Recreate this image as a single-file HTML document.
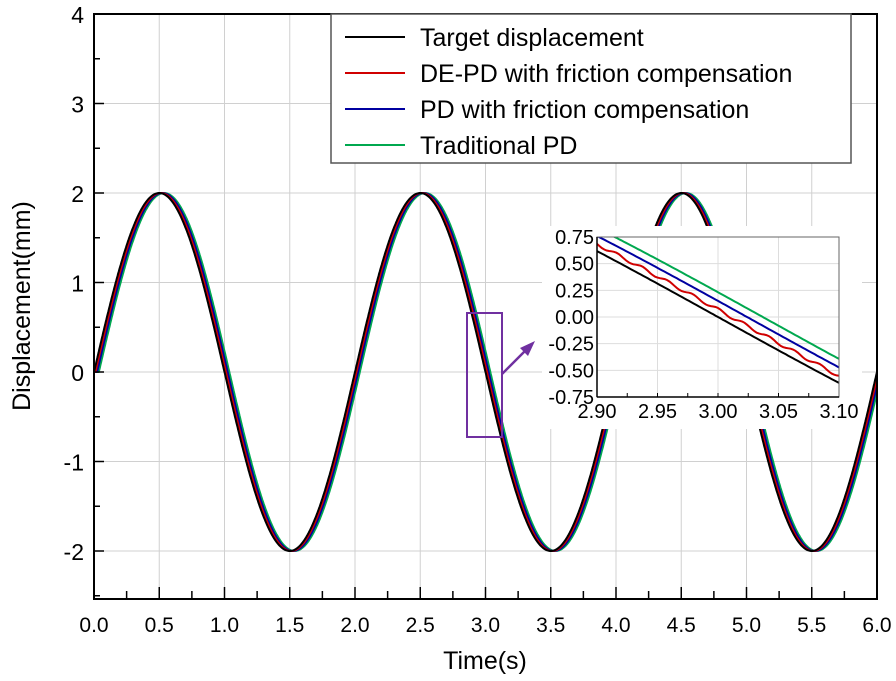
<!DOCTYPE html><html><head><meta charset="utf-8"><style>body{margin:0;background:#fff}svg{display:block;font-family:"Liberation Sans",Arial,sans-serif}</style></head><body>
<svg id="s" width="896" height="681" viewBox="0 0 896 681" xmlns="http://www.w3.org/2000/svg"></svg>
<script>
const s=document.getElementById('s');let h='';
const L=94,R=877,T=14,B=599;
const X=t=>L+t*(R-L)/6, Y=v=>14+(4-v)*89.5;
for(let i=1;i<12;i++)h+=`<line x1="${X(i/2)}" y1="${T}" x2="${X(i/2)}" y2="${B}" stroke="#d0d0d0" stroke-width="1"/>`;
for(let v=-2;v<=3;v++)h+=`<line x1="${L}" y1="${Y(v)}" x2="${R}" y2="${Y(v)}" stroke="#d0d0d0" stroke-width="1"/>`;
const cs=[['#00a84f',0.037],['#0000a0',0.024],['#d00000',0.011],['#000',0]];
for(const [c,d] of cs){let p='';for(let i=0;i<=1200;i++){let t=i*6/1200;let v=t<d?0:2*Math.sin(Math.PI*(t-d));p+=(i?'L':'M')+X(t).toFixed(1)+' '+Y(v).toFixed(1);}h+=`<path d="${p}" fill="none" stroke="${c}" stroke-width="2"/>`;}
h+=`<rect x="${L}" y="${T}" width="${R-L}" height="${B-T}" fill="none" stroke="#000" stroke-width="2"/>`;
for(let i=1;i<24;i++){let len=i%2?8:12;h+=`<line x1="${X(i/4)}" y1="${B}" x2="${X(i/4)}" y2="${B-len}" stroke="#000" stroke-width="1.5"/>`;}
for(let k=-5;k<=7;k++){let v=k/2;if(v<-2.5)continue;let len=k%2?6:10;h+=`<line x1="${L}" y1="${Y(v)}" x2="${L+len}" y2="${Y(v)}" stroke="#000" stroke-width="1.5"/>`;}
for(let i=0;i<=12;i++)h+=`<text x="${X(i/2)}" y="632" font-size="21" text-anchor="middle">${(i/2).toFixed(1)}</text>`;
for(let v=-2;v<=4;v++)h+=`<text x="${L-10}" y="${Y(v)+9}" font-size="23" text-anchor="end">${v}</text>`;
h+=`<text x="485" y="669" font-size="25" text-anchor="middle">Time(s)</text>`;
h+=`<text transform="translate(30,306) rotate(-90)" font-size="25" text-anchor="middle">Displacement(mm)</text>`;
h+=`<rect x="331" y="14" width="520" height="149" fill="#fff" stroke="#555" stroke-width="1.5"/>`;
const lg=[['#000','Target displacement'],['#d00000','DE-PD with friction compensation'],['#0000a0','PD with friction compensation'],['#00a84f','Traditional PD']];
lg.forEach(([c,t],i)=>{let y=37+i*36;h+=`<line x1="345" y1="${y}" x2="405" y2="${y}" stroke="${c}" stroke-width="2"/><text x="420" y="${y+9}" font-size="25">${t}</text>`;});
h+=`<rect x="467" y="313" width="35" height="124" fill="none" stroke="#7030a0" stroke-width="2"/>`;
h+=`<line x1="502" y1="374" x2="526" y2="350" stroke="#7030a0" stroke-width="2.5"/><polygon points="535,341 520,348 528,356" fill="#7030a0"/>`;
const iL=597,iR=839,iT=237,iB=397;
h+=`<rect x="542" y="226" width="320" height="203" fill="#fff"/>`;
const IX=t=>iL+(t-2.9)*(iR-iL)/0.2, IY=v=>iT+(0.75-v)*(iB-iT)/1.5;
for(let i=1;i<4;i++)h+=`<line x1="${IX(2.9+i*0.05)}" y1="${iT}" x2="${IX(2.9+i*0.05)}" y2="${iB}" stroke="#ddd"/>`;
for(let k=-2;k<=2;k++)h+=`<line x1="${iL}" y1="${IY(k*0.25)}" x2="${iR}" y2="${IY(k*0.25)}" stroke="#ddd"/>`;
h+=`<clipPath id="ic"><rect x="${iL}" y="${iT}" width="${iR-iL}" height="${iB-iT}"/></clipPath><g clip-path="url(#ic)">`;
for(const [c,d] of cs){let p='';for(let i=0;i<=100;i++){let t=2.9+i*0.002;let v=2*Math.sin(Math.PI*(t-d))+(c=='#d00000'?0.015*Math.sin(t*300):0);p+=(i?'L':'M')+IX(t).toFixed(1)+' '+IY(v).toFixed(1);}h+=`<path d="${p}" fill="none" stroke="${c}" stroke-width="2"/>`;}
h+=`</g><rect x="${iL}" y="${iT}" width="${iR-iL}" height="${iB-iT}" fill="none" stroke="#666" stroke-width="1"/>`;
h+=`<line x1="${iL}" y1="${iT}" x2="${iL}" y2="${iB}" stroke="#000" stroke-width="1.5"/><line x1="${iL}" y1="${iB}" x2="${iR}" y2="${iB}" stroke="#000" stroke-width="1.5"/>`;
for(let i=1;i<8;i++)h+=`<line x1="${IX(2.9+i*0.025)}" y1="${iB}" x2="${IX(2.9+i*0.025)}" y2="${iB-4}" stroke="#000"/>`;
for(let k=-3;k<=3;k++){h+=`<text x="${iL-3}" y="${IY(k*0.25)+7}" font-size="20" text-anchor="end">${(k*0.25).toFixed(2)}</text>`;}
for(let i=0;i<=4;i++)h+=`<text x="${IX(2.9+i*0.05)}" y="418" font-size="20" text-anchor="middle">${(2.9+i*0.05).toFixed(2)}</text>`;
s.innerHTML=h;
</script></body></html>
